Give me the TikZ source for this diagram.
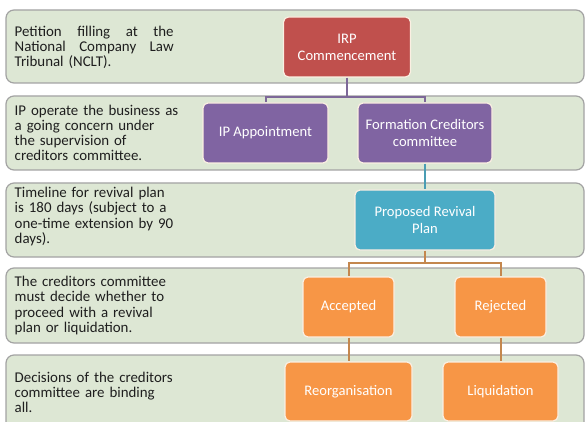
\documentclass[tikz,border=0pt]{standalone}
\usepackage{fontspec}
\setmainfont{Carlito}
\definecolor{bandfill}{HTML}{DDE7D4}
\definecolor{bandline}{HTML}{A3A3A3}
\definecolor{notetext}{HTML}{1E1E1E}
\definecolor{edgecream}{HTML}{FBEFE2}
\definecolor{irpred}{HTML}{C0504D}
\definecolor{ippurple}{HTML}{8064A2}
\definecolor{planblue}{HTML}{4BACC6}
\definecolor{voteorange}{HTML}{F79646}
\definecolor{linkpurple}{HTML}{7D6898}
\definecolor{linkblue}{HTML}{4A9DB4}
\definecolor{linkorange}{HTML}{C4874E}
\newcommand{\fullline}[1]{\leavevmode\hbox to 159pt{#1}}
\begin{document}
\begin{tikzpicture}[x=1pt,y=-1pt,
  band/.style={draw=bandline, fill=bandfill, line width=1.2pt, rounded corners=8pt},
  note/.style={anchor=west, text width=168pt, align=left, inner sep=0pt,
    font=\fontsize{14.9}{15.2}\selectfont, text=notetext},
  stage/.style={rectangle, rounded corners=5pt, draw=edgecream, line width=1.2pt,
    text=white, align=center, inner sep=0pt, font=\fontsize{14.6}{17}\selectfont},
  link/.style={line width=2pt}
]
\clip (0,0) rectangle (586,422);
\fill[white] (0,0) rectangle (586,422);

% horizontal bands, one per phase
\draw[band] (6,10) rectangle (584,83);
\draw[band] (6,96) rectangle (584,170);
\draw[band] (6,183) rectangle (584,257);
\draw[band] (6,268) rectangle (584,343);
\draw[band] (6,355) rectangle (584,430);

% phase descriptions
\node[note] (n1) at (14.5,47.5) {\fullline{Petition\hfill filling\hfill at\hfill the}\\
  \fullline{National\hfill Company\hfill Law}\\ Tribunal (NCLT).};
\node[note] (n2) at (14.5,133) {IP operate the business as\\ a going concern under\\
  the supervision of\\ creditors committee.};
\node[note] (n3) at (14.5,216.5) {Timeline for revival plan\\ is 180 days (subject to a\\
  one-time extension by 90\\ days).};
\node[note] (n4) at (14.5,305.5) {The creditors committee\\ must decide whether to\\
  proceed with a revival\\ plan or liquidation.};
\node[note] (n5) at (14.5,392.5) {Decisions of the creditors\\ committee are binding\\ all.};

% process steps
\node[stage, fill=irpred, minimum width=127pt, minimum height=60pt] (irp) at (347,47)
  {IRP\\ Commencement};
\node[stage, fill=ippurple, minimum width=125pt, minimum height=60pt] (ipa) at (265.5,133)
  {IP Appointment};
\node[stage, fill=ippurple, minimum width=134pt, minimum height=60pt] (fcc) at (425,133)
  {Formation Creditors\\ committee};
\node[stage, fill=planblue, minimum width=140pt, minimum height=60pt] (rvp) at (425,220)
  {Proposed Revival\\ Plan};
\node[stage, fill=voteorange, minimum width=91pt, minimum height=60pt] (acc) at (348.5,307)
  {Accepted};
\node[stage, fill=voteorange, minimum width=91pt, minimum height=60pt] (rej) at (500.5,307)
  {Rejected};
\node[stage, fill=voteorange, minimum width=127pt, minimum height=59pt] (reo) at (348.5,391.5)
  {Reorganisation};
\node[stage, fill=voteorange, minimum width=115pt, minimum height=59pt] (liq) at (500.5,391.5)
  {Liquidation};

% connectors
\coordinate (j1) at (347,97.5);
\coordinate (j2) at (425,263);
\draw[link, linkpurple] (irp.south) -- (irp.south |- j1) -| (ipa.north);
\draw[link, linkpurple] (irp.south |- j1) -| (fcc.north);
\draw[link, linkblue] (fcc.south) -- (rvp.north);
\draw[link, linkorange] (rvp.south) -- (rvp.south |- j2) -| (acc.north);
\draw[link, linkorange] (rvp.south |- j2) -| (rej.north);
\draw[link, linkorange] (acc.south) -- (reo.north);
\draw[link, linkorange] (rej.south) -- (liq.north);
\end{tikzpicture}
\end{document}
